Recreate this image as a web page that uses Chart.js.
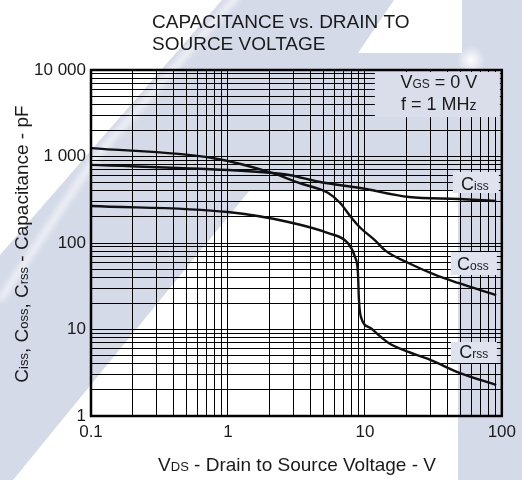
<!DOCTYPE html>
<html>
<head>
<meta charset="utf-8">
<script src="https://cdn.jsdelivr.net/npm/chart.js@4.4.0/dist/chart.umd.min.js"></script>
<style>
  html, body { margin: 0; padding: 0; background: #fff; }
  #wrap { width: 522px; height: 480px; }
</style>
</head>
<body>
<div id="wrap"><canvas id="capChart" width="522" height="480"></canvas></div>
<script>
// drain-source voltage (V) and capacitance (pF) for each curve
const cissV  = [0.1, 1.0, 2.1, 2.8, 4.7, 9.3, 21, 48, 91];
const cissPF = [800, 698, 645, 611, 507, 432, 340, 323, 306];

const cossV  = [0.1, 0.77, 2.1, 3.3, 5.4, 6.6, 7.9, 9.3, 11.8, 14.2, 20.8, 32.7, 48, 91];
const cossPF = [1250, 960, 645, 494, 378, 290, 200, 149, 108, 81, 58.7, 42.7, 34.5, 25];

const crssV  = [0.1, 1.0, 2.76, 5.4, 7.5, 8.47, 8.9, 9.05, 9.35, 11.0, 13.1, 14.9, 20.8, 30.6, 48, 91];
const crssPF = [268, 228, 175, 130, 100, 68.9, 45, 21.9, 14, 10.4, 8.2, 7.0, 5.5, 4.4, 3.2, 2.28];

// axis decades and their labels
const xDecades = [0.1, 1, 10, 100];
const xLabels  = ['0.1', '1', '10', '100'];
const yDecades = [1, 10, 100, 1000, 10000];
const yLabels  = ['1', '10', '100', '1 000', '10 000'];

const FONT = '"Liberation Sans", Arial, Helvetica, sans-serif';
const BLUE = '#d5dae8';

function toPoints(xs, ys) {
  return xs.map((v, i) => ({ x: v, y: ys[i] }));
}

// 1..9 in every decade, so the grid gets all the minor lines
function logGrid(decades) {
  const out = [];
  for (let i = 0; i < decades.length - 1; i++) {
    for (let m = 1; m <= 9; m++) out.push(+(decades[i] * m).toPrecision(6));
  }
  out.push(decades[decades.length - 1]);
  return out;
}

function labelFor(value, decades, labels) {
  const i = decades.findIndex(d => Math.abs(d - value) < d * 1e-6);
  return i >= 0 ? labels[i] : '';
}

// text made of pieces, some of them set smaller (subscripts on baseline)
function drawRuns(ctx, runs, x, y, align) {
  let w = 0;
  runs.forEach(r => { ctx.font = r[1] + 'px ' + FONT; w += ctx.measureText(r[0]).width; });
  let cx = align === 'center' ? x - w / 2 : x;
  ctx.textAlign = 'left';
  ctx.textBaseline = 'alphabetic';
  runs.forEach(r => {
    ctx.font = r[1] + 'px ' + FONT;
    ctx.fillText(r[0], cx, y);
    cx += ctx.measureText(r[0]).width;
  });
}

const backdrop = {
  id: 'backdrop',
  beforeDraw(chart) {
    const ctx = chart.ctx;
    const W = chart.width, H = chart.height;
    ctx.save();
    ctx.fillStyle = BLUE;
    ctx.fillRect(0, 0, W, H);
    ctx.fillStyle = '#fff';
    // upper-left light corner
    ctx.beginPath();
    ctx.moveTo(0, 0); ctx.lineTo(222, 0); ctx.lineTo(0, 255); ctx.closePath();
    ctx.fill();
    // lower middle light area
    ctx.beginPath();
    ctx.moveTo(250, 190); ctx.lineTo(458, 190); ctx.lineTo(458, H); ctx.lineTo(13, H); ctx.closePath();
    ctx.fill();
    // light patch behind end of title
    ctx.beginPath();
    ctx.moveTo(394, 0); ctx.lineTo(462, 0); ctx.lineTo(462, 53); ctx.lineTo(358, 53); ctx.closePath();
    ctx.fill();
    // soft highlight running along the band
    ctx.filter = 'blur(3px)';
    ctx.strokeStyle = 'rgba(255,255,255,0.85)';
    ctx.lineWidth = 5;
    ctx.beginPath();
    ctx.moveTo(0, 300); ctx.lineTo(95, 158); ctx.lineTo(238, -5);
    ctx.stroke();
    ctx.filter = 'none';
    // small glow
    const g = ctx.createRadialGradient(471, 60, 0, 471, 60, 14);
    g.addColorStop(0, 'rgba(255,255,255,0.95)');
    g.addColorStop(1, 'rgba(255,255,255,0)');
    ctx.fillStyle = g;
    ctx.fillRect(455, 44, 32, 32);
    ctx.restore();
  },
  beforeDatasetsDraw(chart) {
    const ctx = chart.ctx;
    const a = chart.chartArea;
    ctx.save();
    // condition box and curve name boxes hide the grid behind them
    ctx.fillStyle = '#d9deea';
    ctx.fillRect(a.right - 127, a.top + 2, 125, 45);
    ctx.fillStyle = '#dfe3ee';
    ctx.fillRect(a.right - 49, 172, 46, 21);
    ctx.fillRect(a.right - 51, 252, 46, 23);
    ctx.fillRect(a.right - 51, 342, 46, 21);
    ctx.restore();
  },
  afterDatasetsDraw(chart) {
    const ctx = chart.ctx;
    const a = chart.chartArea;
    ctx.save();
    ctx.strokeStyle = '#000';
    ctx.lineWidth = 2.5;
    ctx.strokeRect(a.left, a.top, a.right - a.left, a.bottom - a.top);

    ctx.fillStyle = '#1a1a1a';
    drawRuns(ctx, [['V', 18], ['GS', 12], [' = 0 V', 18]], a.right - 63, 88, 'center');
    drawRuns(ctx, [['f = 1 MH', 18], ['z', 14]], a.right - 63, 110, 'center');
    drawRuns(ctx, [['C', 18], ['iss', 12]], a.right - 27, 190, 'center');
    drawRuns(ctx, [['C', 18], ['oss', 12]], a.right - 29, 270, 'center');
    drawRuns(ctx, [['C', 18], ['rss', 12]], a.right - 28, 358, 'center');

    // title
    drawRuns(ctx, [['CAPACITANCE vs. DRAIN TO', 19]], 152, 28, 'left');
    drawRuns(ctx, [['SOURCE VOLTAGE', 19]], 152, 50, 'left');

    // x axis title
    drawRuns(ctx, [['V', 19], ['DS', 13], [' - Drain to Source Voltage - V', 19]], 297, 471, 'center');

    // y axis title
    ctx.translate(28, 244);
    ctx.rotate(-Math.PI / 2);
    drawRuns(ctx, [['C', 19], ['iss', 13], [', C', 19], ['oss', 13], [', C', 19], ['rss', 13],
      [' - Capacitance - pF', 19]], 0, 0, 'center');
    ctx.restore();
  }
};

const lineStyle = {
  showLine: true,
  borderColor: '#111',
  borderWidth: 2.4,
  pointRadius: 0,
  fill: false,
  cubicInterpolationMode: 'monotone'
};

const config = {
  type: 'scatter',
  data: {
    datasets: [
      Object.assign({ label: 'Ciss', data: toPoints(cissV, cissPF) }, lineStyle),
      Object.assign({ label: 'Coss', data: toPoints(cossV, cossPF) }, lineStyle),
      Object.assign({ label: 'Crss', data: toPoints(crssV, crssPF) }, lineStyle)
    ]
  },
  options: {
    responsive: false,
    animation: false,
    layout: { padding: { top: 70, right: 17, bottom: 0, left: 0 } },
    plugins: {
      legend: { display: false },
      tooltip: { enabled: false },
      title: { display: false }
    },
    scales: {
      x: {
        type: 'logarithmic',
        min: xDecades[0],
        max: xDecades[xDecades.length - 1],
        afterBuildTicks: s => { s.ticks = logGrid(xDecades).map(v => ({ value: v })); },
        afterFit: s => { s.height = 64; },
        border: { display: false },
        grid: { color: '#000', lineWidth: 1, drawTicks: false },
        ticks: {
          autoSkip: false,
          maxRotation: 0,
          padding: 6,
          color: '#1a1a1a',
          font: { family: FONT, size: 17 },
          callback: v => labelFor(v, xDecades, xLabels)
        }
      },
      y: {
        type: 'logarithmic',
        min: yDecades[0],
        max: yDecades[yDecades.length - 1],
        afterBuildTicks: s => { s.ticks = logGrid(yDecades).map(v => ({ value: v })); },
        afterFit: s => { s.width = 91; },
        border: { display: false },
        grid: { color: '#000', lineWidth: 1, drawTicks: false },
        ticks: {
          autoSkip: false,
          padding: 5,
          color: '#1a1a1a',
          font: { family: FONT, size: 17 },
          callback: v => labelFor(v, yDecades, yLabels)
        }
      }
    }
  },
  plugins: [backdrop]
};

new Chart(document.getElementById('capChart').getContext('2d'), config);
</script>
</body>
</html>
